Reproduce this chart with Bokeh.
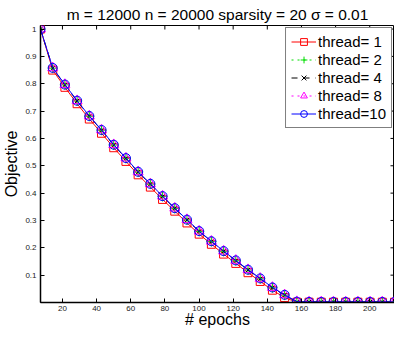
import math
from bokeh.plotting import figure
from bokeh.models import Range1d, FixedTicker, Legend
from bokeh.embed import file_html
from bokeh.resources import INLINE

title_text = "m = 12000 n = 20000 sparsity = 20 \u03c3 = 0.01"
x_label = "# epochs"
y_label = "Objective"

epochs = [7.15, 14.3, 21.45, 28.6, 35.75, 42.9, 50.05, 57.2, 64.35, 71.5,
          78.65, 85.8, 92.95, 100.1, 107.25, 114.4, 121.55, 128.7, 135.85, 143.0,
          150.15, 157.3, 164.45, 171.6, 178.75, 185.9, 193.05, 200.2, 207.35, 214.5]

thread1 = [1.0, 0.850, 0.787, 0.727, 0.671, 0.619, 0.566, 0.516, 0.467, 0.422,
           0.377, 0.334, 0.291, 0.250, 0.213, 0.177, 0.143, 0.109, 0.077, 0.045,
           0.018, 0.001, 0.001, 0.001, 0.001, 0.001, 0.001, 0.001, 0.001, 0.001]
thread2 = [1.0, 0.857, 0.796, 0.737, 0.681, 0.630, 0.576, 0.527, 0.477, 0.433,
           0.388, 0.344, 0.302, 0.260, 0.223, 0.187, 0.153, 0.119, 0.087, 0.054,
           0.027, 0.002, 0.002, 0.002, 0.002, 0.002, 0.002, 0.002, 0.002, 0.002]
thread4 = [1.0, 0.857, 0.796, 0.737, 0.681, 0.630, 0.576, 0.527, 0.477, 0.433,
           0.388, 0.344, 0.302, 0.260, 0.223, 0.187, 0.153, 0.119, 0.087, 0.054,
           0.027, 0.002, 0.002, 0.002, 0.002, 0.002, 0.002, 0.002, 0.002, 0.002]
thread8 = [1.0, 0.858, 0.797, 0.738, 0.682, 0.631, 0.577, 0.528, 0.478, 0.434,
           0.389, 0.345, 0.303, 0.261, 0.224, 0.188, 0.154, 0.120, 0.088, 0.055,
           0.028, 0.003, 0.002, 0.002, 0.002, 0.002, 0.002, 0.002, 0.002, 0.002]
thread10 = [1.0, 0.858, 0.797, 0.738, 0.682, 0.631, 0.577, 0.528, 0.478, 0.434,
            0.389, 0.345, 0.303, 0.261, 0.224, 0.188, 0.154, 0.120, 0.088, 0.055,
            0.028, 0.003, 0.002, 0.002, 0.002, 0.002, 0.002, 0.002, 0.002, 0.002]

x_ticks = [20, 40, 60, 80, 100, 120, 140, 160, 180, 200]
y_ticks = [0.1, 0.2, 0.3, 0.4, 0.5, 0.6, 0.7, 0.8, 0.9, 1.0]

X_START, X_END = 7.15, 214.5
Y_START, Y_END = 0.0, 1.013

FONT = "Liberation Sans"

p = figure(width=394, height=330, output_backend="svg", toolbar_location=None,
           x_range=Range1d(X_START, X_END), y_range=Range1d(Y_START, Y_END),
           min_border_left=33, min_border_right=0, min_border_top=25, min_border_bottom=27)

p.title.text = title_text
p.title.align = "center"
p.title.text_font = FONT
p.title.text_font_size = "15.5px"
p.title.text_font_style = "normal"
p.title.text_color = "black"
p.title.standoff = 5

p.xgrid.visible = False
p.ygrid.visible = False
p.outline_line_color = "black"
p.outline_line_width = 1

p.xaxis.ticker = FixedTicker(ticks=x_ticks)
p.yaxis.ticker = FixedTicker(ticks=y_ticks)
p.yaxis.major_label_overrides = {1.0: "1", 1: "1"}
p.yaxis.axis_label = y_label
p.xaxis.axis_label = x_label
for ax in (p.xaxis[0], p.yaxis[0]):
    ax.axis_label_text_font = FONT
    ax.axis_label_text_font_size = "16px"
    ax.axis_label_text_font_style = "normal"
    ax.axis_label_text_color = "black"
    ax.major_label_text_font = FONT
    ax.major_label_text_font_size = "8px"
    ax.major_label_text_color = "#222222"
    ax.major_tick_in = 4
    ax.major_tick_out = 0
    ax.minor_tick_line_color = None
    ax.axis_line_color = "black"
    ax.axis_line_width = 1.5
p.yaxis.axis_label_standoff = 2
p.yaxis.major_label_standoff = 4
p.xaxis.axis_label_standoff = -3
p.xaxis.major_label_standoff = 3

# inward ticks on the top and right edges of the box
p.scatter(x_ticks, [Y_END] * len(x_ticks), marker="dash", angle=math.pi / 2, size=8,
          line_color="black", line_width=1)
p.scatter([X_END] * len(y_ticks), y_ticks, marker="dash", size=8,
          line_color="black", line_width=1)

series = [
    ("thread= 1", thread1, "red", "solid", "square", 8),
    ("thread= 2", thread2, "#00dd00", "dotted", "cross", 10),
    ("thread= 4", thread4, "black", "dashed", "x", 6),
    ("thread= 8", thread8, "magenta", "dotted", "triangle", 10),
    ("thread=10", thread10, "blue", "solid", "circle", 9),
]

items = []
for label, ys, color, dash, marker, size in series:
    r1 = p.line(epochs, ys, line_color=color, line_width=1, line_dash=dash)
    r2 = p.scatter(epochs, ys, marker=marker, size=size, line_color=color,
                   fill_color=None, line_width=1)
    items.append((label, [r1, r2]))

legend = Legend(items=items, location="top_right")
legend.label_text_font = FONT
legend.label_text_font_size = "15px"
legend.label_text_color = "black"
legend.glyph_width = 25
legend.glyph_height = 17
legend.label_height = 17
legend.label_standoff = 2
legend.spacing = 1
legend.padding = 5
legend.margin = 2
legend.border_line_color = "black"
legend.border_line_width = 1
legend.background_fill_alpha = 1.0
p.add_layout(legend, "center")

open("out.html", "w").write(file_html(p, INLINE))
